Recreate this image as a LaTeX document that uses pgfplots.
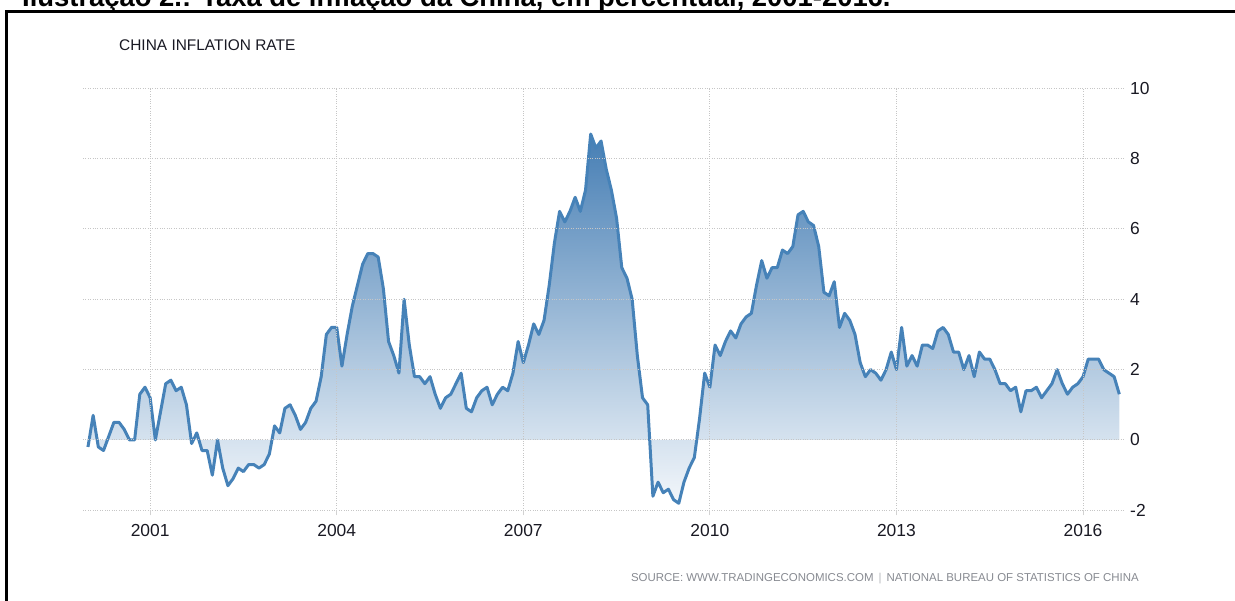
\documentclass[border=0pt]{standalone}
\usepackage{fontspec}
\setmainfont{Liberation Sans}
\usepackage{pgfplots}
\pgfplotsset{compat=1.18}
\usepackage{pgfplotstable}

\definecolor{cpiline}{RGB}{70,130,184}
\definecolor{filltop}{RGB}{70,126,180}
\definecolor{fillbot}{RGB}{243,247,251}
\definecolor{txt}{RGB}{25,25,35}
\definecolor{src}{RGB}{135,138,145}

% China CPI, year on year, monthly
\pgfplotstableread{
yr m v
2000 1 -0.2
2000 2 0.7
2000 3 -0.2
2000 4 -0.3
2000 5 0.1
2000 6 0.5
2000 7 0.5
2000 8 0.3
2000 9 0.0
2000 10 0.0
2000 11 1.3
2000 12 1.5
2001 1 1.2
2001 2 0.0
2001 3 0.8
2001 4 1.6
2001 5 1.7
2001 6 1.4
2001 7 1.5
2001 8 1.0
2001 9 -0.1
2001 10 0.2
2001 11 -0.3
2001 12 -0.3
2002 1 -1.0
2002 2 0.0
2002 3 -0.8
2002 4 -1.3
2002 5 -1.1
2002 6 -0.8
2002 7 -0.9
2002 8 -0.7
2002 9 -0.7
2002 10 -0.8
2002 11 -0.7
2002 12 -0.4
2003 1 0.4
2003 2 0.2
2003 3 0.9
2003 4 1.0
2003 5 0.7
2003 6 0.3
2003 7 0.5
2003 8 0.9
2003 9 1.1
2003 10 1.8
2003 11 3.0
2003 12 3.2
2004 1 3.2
2004 2 2.1
2004 3 3.0
2004 4 3.8
2004 5 4.4
2004 6 5.0
2004 7 5.3
2004 8 5.3
2004 9 5.2
2004 10 4.3
2004 11 2.8
2004 12 2.4
2005 1 1.9
2005 2 4.0
2005 3 2.7
2005 4 1.8
2005 5 1.8
2005 6 1.6
2005 7 1.8
2005 8 1.3
2005 9 0.9
2005 10 1.2
2005 11 1.3
2005 12 1.6
2006 1 1.9
2006 2 0.9
2006 3 0.8
2006 4 1.2
2006 5 1.4
2006 6 1.5
2006 7 1.0
2006 8 1.3
2006 9 1.5
2006 10 1.4
2006 11 1.9
2006 12 2.8
2007 1 2.2
2007 2 2.7
2007 3 3.3
2007 4 3.0
2007 5 3.4
2007 6 4.4
2007 7 5.6
2007 8 6.5
2007 9 6.2
2007 10 6.5
2007 11 6.9
2007 12 6.5
2008 1 7.1
2008 2 8.7
2008 3 8.3
2008 4 8.5
2008 5 7.7
2008 6 7.1
2008 7 6.3
2008 8 4.9
2008 9 4.6
2008 10 4.0
2008 11 2.4
2008 12 1.2
2009 1 1.0
2009 2 -1.6
2009 3 -1.2
2009 4 -1.5
2009 5 -1.4
2009 6 -1.7
2009 7 -1.8
2009 8 -1.2
2009 9 -0.8
2009 10 -0.5
2009 11 0.6
2009 12 1.9
2010 1 1.5
2010 2 2.7
2010 3 2.4
2010 4 2.8
2010 5 3.1
2010 6 2.9
2010 7 3.3
2010 8 3.5
2010 9 3.6
2010 10 4.4
2010 11 5.1
2010 12 4.6
2011 1 4.9
2011 2 4.9
2011 3 5.4
2011 4 5.3
2011 5 5.5
2011 6 6.4
2011 7 6.5
2011 8 6.2
2011 9 6.1
2011 10 5.5
2011 11 4.2
2011 12 4.1
2012 1 4.5
2012 2 3.2
2012 3 3.6
2012 4 3.4
2012 5 3.0
2012 6 2.2
2012 7 1.8
2012 8 2.0
2012 9 1.9
2012 10 1.7
2012 11 2.0
2012 12 2.5
2013 1 2.0
2013 2 3.2
2013 3 2.1
2013 4 2.4
2013 5 2.1
2013 6 2.7
2013 7 2.7
2013 8 2.6
2013 9 3.1
2013 10 3.2
2013 11 3.0
2013 12 2.5
2014 1 2.5
2014 2 2.0
2014 3 2.4
2014 4 1.8
2014 5 2.5
2014 6 2.3
2014 7 2.3
2014 8 2.0
2014 9 1.6
2014 10 1.6
2014 11 1.4
2014 12 1.5
2015 1 0.8
2015 2 1.4
2015 3 1.4
2015 4 1.5
2015 5 1.2
2015 6 1.4
2015 7 1.6
2015 8 2.0
2015 9 1.6
2015 10 1.3
2015 11 1.5
2015 12 1.6
2016 1 1.8
2016 2 2.3
2016 3 2.3
2016 4 2.3
2016 5 2.0
2016 6 1.9
2016 7 1.8
2016 8 1.3
}\cpi

\begin{document}
\begin{tikzpicture}[x=1bp,y=1bp]
\useasboundingbox (0,0) rectangle (1235,601);

% caption of the page, cut by the top edge
\begin{scope}
  \clip (0,0) rectangle (1235,601);
  \node[anchor=base west, inner sep=0pt, font=\bfseries\fontsize{27.5}{27.5}\selectfont]
    at (22,594.5) {Ilustração 2.: Taxa de inflação da China, em percentual, 2001-2016.};
\end{scope}
\draw[line width=3bp] (6.5,0) -- (6.5,589.5) -- (1235,589.5);

\node[anchor=base west, inner sep=0pt, text=txt, font=\fontsize{15.5}{15.5}\selectfont]
  at (119,550.5) {CHINA INFLATION RATE};
\node[anchor=base east, inner sep=0pt, text=src, font=\fontsize{11.5}{11.5}\selectfont]
  at (1139,19.5) {SOURCE:\ WWW.TRADINGECONOMICS.COM \,{\color{src!60}|}\, NATIONAL BUREAU OF STATISTICS OF CHINA};

\begin{axis}[
  at={(83bp,90.7bp)}, anchor=south west,
  scale only axis, width=1042bp, height=422bp,
  xmin=1999.92, xmax=2016.675, ymin=-2, ymax=10,
  axis line style={draw=none},
  axis on top,
  xtick={2001,2004,...,2016}, ytick={-2,0,...,10},
  yticklabels={-2,0,2,4,6,8,10},
  xtick pos=bottom, ytick pos=right, yticklabel pos=right,
  grid=major, grid style={dotted, gray!45, line width=1bp},
  tick align=outside, major tick length=5bp,
  xtick style={gray!35, line width=1bp}, ytick style={draw=none},
  ticklabel style={font=\fontsize{17.5}{17.5}\selectfont, text=txt},
  xticklabel style={inner sep=0pt, yshift=-9bp},
  yticklabel style={inner sep=0pt, anchor=west, xshift=0bp},
  /pgf/number format/1000 sep={},
  /pgf/number format/assume math mode=true,
]
  \addplot[draw=none, top color=filltop, bottom color=fillbot]
    table[x expr=\thisrow{yr}+(\thisrow{m}-1)/12, y=v]{\cpi} \closedcycle;
  \addplot[cpiline, line width=3bp, line join=round]
    table[x expr=\thisrow{yr}+(\thisrow{m}-1)/12, y=v]{\cpi};
\end{axis}
\end{tikzpicture}
\end{document}
